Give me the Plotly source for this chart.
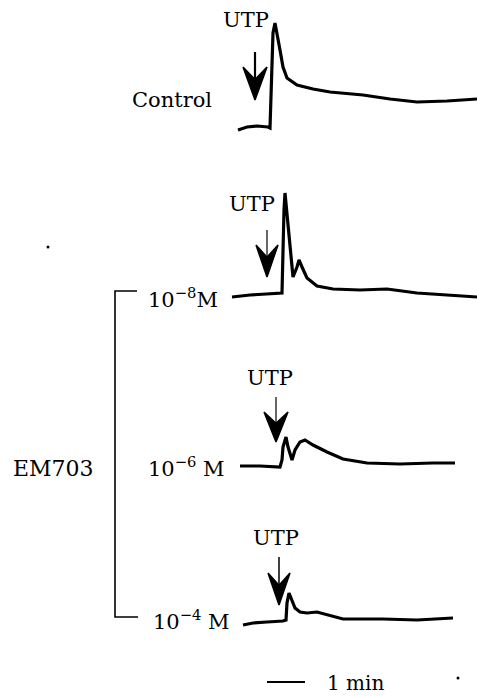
import plotly.graph_objects as go

# ---- data (time position, signal level) ----
ctrl_t = [238, 247, 257, 268, 270, 271, 272, 273, 275, 278, 280, 283, 287, 297, 313, 330, 363, 390, 417, 447, 477]
ctrl_v = [130, 127, 126, 127, 128, 90, 50, 33, 23, 37, 50, 67, 78, 85, 89, 92, 95, 99, 102, 101, 99]

m8_t = [232, 250, 282, 283, 284, 285, 287, 290, 293, 297, 299, 302, 307, 317, 333, 360, 387, 417, 450, 477]
m8_v = [297, 295, 293, 247, 210, 193, 213, 247, 277, 267, 260, 267, 278, 286, 289, 290, 289, 293, 295, 297]

m6_t = [240, 260, 280, 282, 283, 286, 288, 292, 295, 300, 305, 313, 327, 343, 367, 400, 433, 455]
m6_v = [466, 466, 467, 460, 447, 437, 447, 460, 450, 442, 440, 445, 452, 459, 463, 464, 463, 463]

m4_t = [243, 253, 267, 283, 286, 287, 289, 292, 295, 300, 307, 317, 327, 343, 383, 417, 453]
m4_v = [625, 623, 622, 621, 620, 603, 593, 600, 608, 612, 613, 612, 615, 619, 619, 620, 618]

traces = [(ctrl_t, ctrl_v), (m8_t, m8_v), (m6_t, m6_v), (m4_t, m4_v)]

# UTP arrows: tip x, tip y, shaft top, head length, head half-width, shaft width
arrow_tip_x = [255, 267, 276, 279]
arrow_tip_y = [100, 277, 442, 605]
arrow_top_y = [52, 230, 397, 557]
arrow_head_len = [33, 32, 30, 32]
arrow_half_w = [12, 11, 12, 11]
arrow_shaft_w = [2.2, 1.2, 1.2, 1.5]

utp_label_x = [246, 252, 270, 276]
utp_label_y = [20, 204, 378, 538]

conc_labels = ["10<sup>−8</sup>M", "10<sup>−6</sup> M", "10<sup>−4</sup> M"]
conc_label_x = [146, 146, 151]
conc_label_y = [298, 467, 620]

bracket_x = [137, 115, 115, 138]
bracket_y = [291, 291, 617, 617]

scalebar_x = [267, 305]
scalebar_y = [682, 682]

dots_x = [48, 458]
dots_y = [247, 678]

W, H = 477, 696
FONT = "DejaVu Serif"

fig = go.Figure()

for t, v in traces:
    fig.add_trace(go.Scatter(x=t, y=v, mode="lines",
                             line=dict(color="black", width=3.2),
                             hoverinfo="skip", showlegend=False))

for tx, ty, top, hl, hw, sw in zip(arrow_tip_x, arrow_tip_y, arrow_top_y,
                                   arrow_head_len, arrow_half_w, arrow_shaft_w):
    # shaft
    fig.add_trace(go.Scatter(x=[tx, tx], y=[top, ty - hl * 0.5], mode="lines",
                             line=dict(color="black", width=sw),
                             hoverinfo="skip", showlegend=False))
    # barbed head
    hx = [tx - hw, tx, tx + hw, tx, tx - hw]
    hy = [ty - hl, ty - hl * 0.62, ty - hl, ty, ty - hl]
    fig.add_trace(go.Scatter(x=hx, y=hy, mode="lines", fill="toself",
                             fillcolor="black", line=dict(color="black", width=1.5),
                             hoverinfo="skip", showlegend=False))

fig.add_trace(go.Scatter(x=bracket_x, y=bracket_y, mode="lines",
                         line=dict(color="black", width=1.6),
                         hoverinfo="skip", showlegend=False))
fig.add_trace(go.Scatter(x=scalebar_x, y=scalebar_y, mode="lines",
                         line=dict(color="black", width=2),
                         hoverinfo="skip", showlegend=False))
fig.add_trace(go.Scatter(x=dots_x, y=dots_y, mode="markers",
                         marker=dict(color="black", size=3),
                         hoverinfo="skip", showlegend=False))

ann = []
for x, y in zip(utp_label_x, utp_label_y):
    ann.append(dict(x=x, y=y, text="UTP", showarrow=False, xanchor="center", yanchor="middle",
                    font=dict(family=FONT, size=21, color="black")))
for txt, x, y in zip(conc_labels, conc_label_x, conc_label_y):
    ann.append(dict(x=x, y=y, text=txt, showarrow=False, xanchor="left", yanchor="middle",
                    font=dict(family=FONT, size=21, color="black")))
ann.append(dict(x=214, y=100, text="Control", showarrow=False, xanchor="right", yanchor="middle",
                font=dict(family=FONT, size=21, color="black")))
ann.append(dict(x=11, y=468, text="EM703", showarrow=False, xanchor="left", yanchor="middle",
                font=dict(family=FONT, size=22, color="black")))
ann.append(dict(x=325, y=683, text="1 min", showarrow=False, xanchor="left", yanchor="middle",
                font=dict(family=FONT, size=20, color="black")))

fig.update_layout(
    width=W, height=H,
    margin=dict(l=0, r=0, t=0, b=0),
    paper_bgcolor="white", plot_bgcolor="white",
    xaxis=dict(range=[0, W], visible=False, fixedrange=True),
    yaxis=dict(range=[H, 0], visible=False, fixedrange=True),
    annotations=ann,
)

fig.write_html("out.html", config={"displayModeBar": False},
               post_script="document.body.style.margin='0';document.body.style.overflow='hidden';")
